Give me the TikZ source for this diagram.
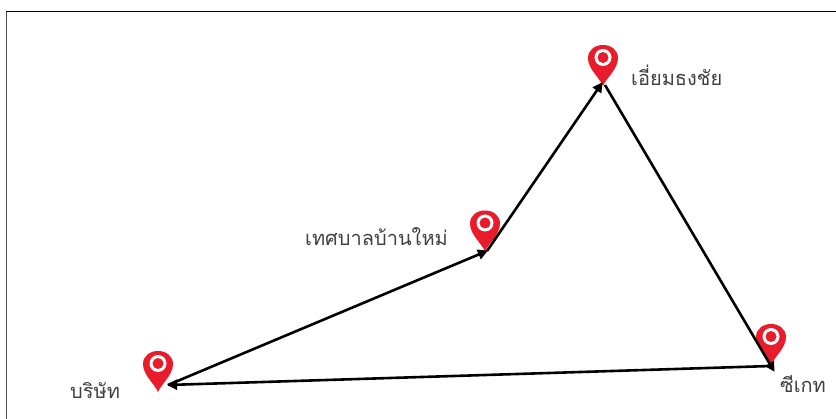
\documentclass[tikz,border=0pt]{standalone}
\usepackage{fontspec}
\newfontfamily\thaifont[Script=Thai]{Loma}
\usepackage{xcolor}
\usetikzlibrary{arrows.meta,positioning}
\definecolor{pinred}{RGB}{232,28,43}
\definecolor{labelgray}{RGB}{64,64,64}
\tikzset{
  x=1pt, y=-1pt,
  pinmark/.pic={
    \fill[pinred] (0,0) .. controls (-4,-9) and (-15,-17) .. (-15,-28)
      .. controls (-15,-36) and (-8,-41) .. (0,-41)
      .. controls (8,-41) and (15,-36) .. (15,-28)
      .. controls (15,-17) and (4,-9) .. (0,0) -- cycle;
    \fill[white] (0,-28.5) circle (8.5pt);
    \fill[pinred] (0,-28.5) circle (5.5pt);
  },
  place/.style={font=\thaifont\fontsize{20}{23}\selectfont, text=labelgray, inner sep=0pt, anchor=base west},
  flow/.style={-{Triangle[length=10pt,width=10pt]}, line width=2.6pt, draw=black, shorten >=-1pt}
}
\begin{document}
\begin{tikzpicture}
        \useasboundingbox (0,0) rectangle (836,419);
        \draw[line width=1.5pt, black!70] (6.5,419) -- (6.5,11.5);
        \draw[line width=1.2pt] (6,11.5) -- (836,11.5);
        % pins
        \pic at (158,392) {pinmark};
        \pic at (485,251.5) {pinmark};
        \pic at (603,86) {pinmark};
        \pic at (771,365) {pinmark};
        % route ends
        \coordinate (company) at (168,385);
        \coordinate (banmai) at (487,251);
        \coordinate (yiam) at (602,83);
        \coordinate (ckate) at (771,366);
        \coordinate (ckatetip) at (774,371);
        \coordinate (yiamstart) at (605,85);
        \node[place] (companylabel) at (70,399) {บริษัท};
        \node[place] (banmailabel) at (305,246) {เทศบาลบ้านใหม่};
        \node[place] (yiamlabel) at (631,86) {เอี่ยมธงชัย};
        \node[place] (ckatelabel) at (780,393) {ซีเกท};
        \draw[flow] (company) -- (banmai);
        \draw[flow] (banmai) -- (yiam);
        \draw[flow] (yiamstart) -- (ckatetip);
        \draw[flow] (ckate) -- (company);
    \end{tikzpicture}
\end{document}
